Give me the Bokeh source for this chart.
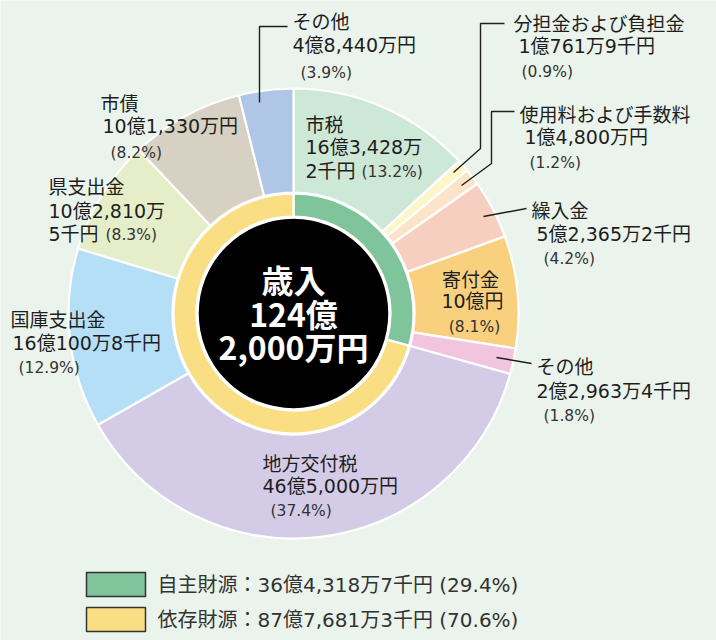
import numpy as np
from bokeh.plotting import figure
from bokeh.models import Range1d
from bokeh.core.properties import value
from bokeh.embed import file_html
from bokeh.resources import INLINE

# ---------------- data (values in 万円) ----------------
names = ["市税", "分担金および負担金", "使用料および手数料", "繰入金", "寄付金", "その他",
         "地方交付税", "国庫支出金", "県支出金", "市債", "その他"]
values_man = [163428.2, 10761.9, 14800.0, 52365.2, 100000.0, 22963.4,
              465000.0, 160100.8, 102810.5, 101330.0, 48440.0]
pct = [13.2, 0.9, 1.2, 4.2, 8.1, 1.8, 37.4, 12.9, 8.3, 8.2, 3.9]
colors = ["#cde8d6", "#fdf6c8", "#fbe4c8", "#f6cfc0", "#f8d07e", "#f2c5de",
          "#d4cce6", "#b5dff6", "#e5eec9", "#d6d1c3", "#afc6e7"]

group_names = ["自主財源", "依存財源"]
group_sizes = [6, 5]
group_pct = [29.4, 70.6]
group_colors = ["#80c49b", "#f9de84"]
center_lines = ["歳入", "124億", "2,000万円"]

BG = "#ebf4ec"
FONT = "Noto Sans CJK JP"
MIX = "DejaVu Sans, Noto Sans CJK JP"
TXT = "#1e1e1e"


def fmt(v):
    oku = int(v // 10000)
    rest = round(v - oku * 10000, 1)
    man = int(rest)
    sen = int(round((rest - man) * 10))
    s = f"{oku}億"
    if man:
        s += f"{man:,}万"
    if sen:
        s += f"{sen}千"
    return s + "円"


W, H = 716, 640
p = figure(width=W, height=H, output_backend="svg", toolbar_location=None,
           x_range=Range1d(0, W), y_range=Range1d(0, H),
           min_border=0, background_fill_color=BG, border_fill_color=BG,
           outline_line_color=None)
p.axis.visible = False
p.grid.visible = False


def Y(y):
    return H - y


cx, cy = 293, Y(313)

vals = np.array(values_man)
frac = vals / vals.sum()
cum = np.concatenate([[0.0], np.cumsum(frac)])
start = np.pi / 2 - cum[:-1] * 2 * np.pi
end = np.pi / 2 - cum[1:] * 2 * np.pi
p.annular_wedge(x=cx, y=cy, inner_radius=121, outer_radius=225,
                start_angle=start, end_angle=end, direction="clock",
                fill_color=colors, line_color="white", line_width=2.2)

# inner ring by group
bounds = np.concatenate([[0], np.cumsum(group_sizes)])
gvals = np.array([vals[bounds[i]:bounds[i + 1]].sum() for i in range(len(group_sizes))])
gcum = np.concatenate([[0.0], np.cumsum(gvals / gvals.sum())])
p.annular_wedge(x=cx, y=cy, inner_radius=97, outer_radius=120,
                start_angle=np.pi / 2 - gcum[:-1] * 2 * np.pi,
                end_angle=np.pi / 2 - gcum[1:] * 2 * np.pi, direction="clock",
                fill_color=group_colors, line_color="white", line_width=2.2)

p.circle(x=cx, y=cy, radius=96, fill_color="black", line_color="white", line_width=2.5)

for t, yy in zip(center_lines, [278, 312, 345]):
    p.text(x=cx, y=Y(yy), text=[t], text_color="white", text_font=value(FONT),
           text_font_size="32px", text_font_style="bold", text_align="center",
           text_baseline="middle")

# ---------------- labels ----------------
# layout: (name_xy, amount_xy, pct_xy, align, split_xy or None)
layout = [
    ((305, 123), (305, 146), (361, 171), "left", (305, 170)),
    ((513, 22), (518, 45), (521, 71), "left", None),
    ((519, 113), (524, 136), (529, 162), "left", None),
    ((531, 209), (536, 233), (543, 258), "left", None),
    ((470, 278), (472, 300), (474, 326), "center", None),
    ((536, 365), (536, 390), (543, 415), "left", None),
    ((262, 462), (262, 485), (270, 510), "left", None),
    ((10, 318), (12, 342), (18, 367), "left", None),
    ((48, 185), (48, 210), (105, 234), "left", (48, 233)),
    ((100, 102), (102, 125), (110, 152), "left", None),
    ((292, 20), (292, 44), (300, 72), "left", None),
]

nm = {"left": dict(x=[], y=[], text=[]), "center": dict(x=[], y=[], text=[])}
am = {"left": dict(x=[], y=[], text=[]), "center": dict(x=[], y=[], text=[])}
sm = {"left": dict(x=[], y=[], text=[]), "center": dict(x=[], y=[], text=[])}
for i, (nxy, axy, pxy, al, split) in enumerate(layout):
    amt = fmt(values_man[i])
    n = nm[al]
    n["x"].append(nxy[0]); n["y"].append(Y(nxy[1])); n["text"].append(names[i])
    d = am[al]
    if split:
        k = amt.index("万") + 1
        d["x"] += [axy[0], split[0]]
        d["y"] += [Y(axy[1]), Y(split[1])]
        d["text"] += [amt[:k], amt[k:]]
    else:
        d["x"].append(axy[0]); d["y"].append(Y(axy[1])); d["text"].append(amt)
    s = sm[al]
    s["x"].append(pxy[0]); s["y"].append(Y(pxy[1])); s["text"].append(f"({pct[i]}%)")

for al in ("left", "center"):
    p.text(x="x", y="y", text="text", source=nm[al], text_color=TXT,
           text_font=value(FONT), text_font_size="19px", text_align=al,
           text_baseline="middle")
    p.text(x="x", y="y", text="text", source=am[al], text_color=TXT,
           text_font=value(MIX), text_font_size="19px", text_align=al,
           text_baseline="middle")
    p.text(x="x", y="y", text="text", source=sm[al], text_color="#333333",
           text_font=value(MIX), text_font_size="15.5px", text_align=al,
           text_baseline="middle")

# leader lines
leaders = [
    ([453, 480, 480, 504], [172, 148, 23, 23]),
    ([461, 491, 491, 514], [185, 163, 111, 111]),
    ([483, 526], [216, 208]),
    ([496, 531], [357, 363]),
    ([259, 259, 287], [102, 26, 26]),
]
p.multi_line(xs=[lx for lx, _ in leaders], ys=[[Y(v) for v in ly] for _, ly in leaders],
             line_color="#1e1e1e", line_width=1.4)

# ---------------- legend ----------------
box_y = [584, 619]
p.rect(x=[115.5, 115.5], y=[Y(v) for v in box_y], width=59, height=24,
       fill_color=group_colors, line_color="#333333", line_width=1.5)
leg_txt = [f"{group_names[i]}：{fmt(gvals[i])} ({group_pct[i]}%)" for i in range(2)]
p.text(x=[157, 157], y=[Y(v) for v in box_y], text=leg_txt, text_color="#333333",
       text_font=value(MIX), text_font_size="20px", text_baseline="middle")

html = file_html(p, INLINE)
html = html.replace("<body>", f'<body style="background-color:{BG};">', 1)
open("out.html", "w").write(html)
